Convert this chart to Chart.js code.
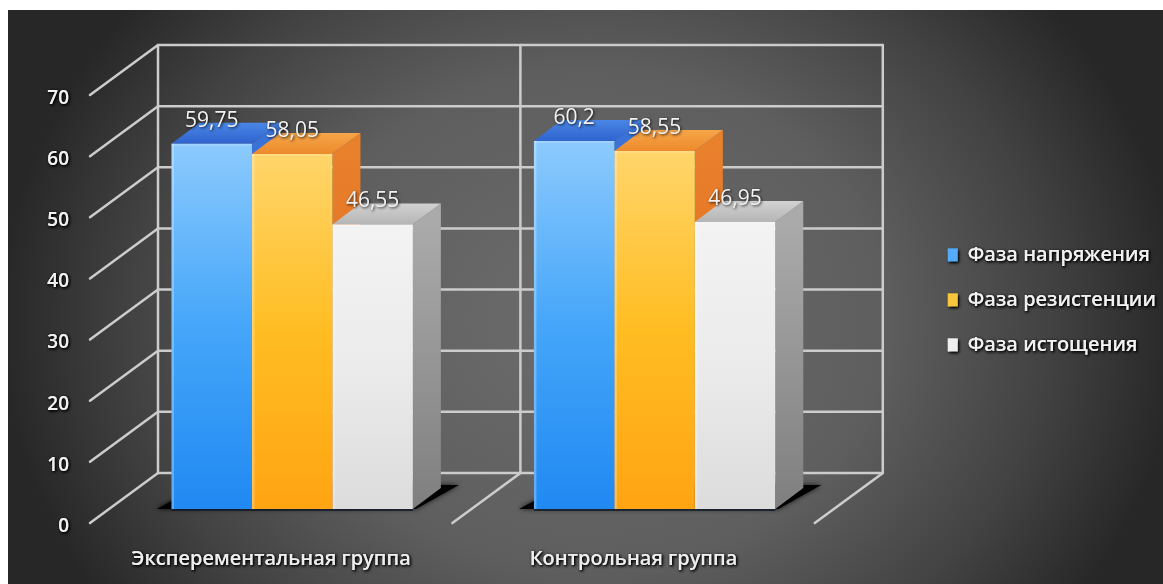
<!DOCTYPE html>
<html lang="ru">
<head>
<meta charset="utf-8">
<style>
html,body{margin:0;padding:0;background:#fff;overflow:hidden}
#wrap{width:1163px;height:584px;position:relative}
canvas{display:block;filter:blur(0.6px)}
</style>
<script src="https://cdn.jsdelivr.net/npm/chart.js@4"></script>
</head>
<body>
<div id="wrap"><canvas id="c" width="1163" height="584"></canvas></div>
<script>
const categories = ['Эксперементальная группа', 'Контрольная группа'];
const tensionValues = [59.75, 60.2];
const resistanceValues = [58.05, 58.55];
const exhaustionValues = [46.55, 46.95];
const tensionLabels = ['59,75', '60,2'];
const resistanceLabels = ['58,05', '58,55'];
const exhaustionLabels = ['46,55', '46,95'];
const seriesNames = ['Фаза напряжения', 'Фаза резистенции', 'Фаза истощения'];
const legendColors = ['#55abf9', '#f8c63d', '#eeeeee'];
const frontStops = [
  ['#8ccafd', '#45a6f9', '#2089f2'],
  ['#ffd56a', '#ffbd22', '#ffa412'],
  ['#f3f3f3', '#ebebeb', '#dcdcdc']
];
const topColors = [['#2f63cf', '#4a86e6'], ['#ec8a2c', '#f6a548'], ['#b5b5b5', '#d2d2d2']];
const sideColors = [['#3a72d8', '#1f54b4'], ['#e9802c', '#d95f14'], ['#aaaaaa', '#7f7f7f']];

const WALL_DX = 68, WALL_DY = 50;   // depth of the floor
const BAR_DX = 21, BAR_DY = 14;     // bars stand 0.3 of the way back
const SIDE_DX = 28, SIDE_DY = 21;   // depth of a bar

const valueLabels = [tensionLabels, resistanceLabels, exhaustionLabels];

function frontGradient(ctx) {
  const chart = ctx.chart;
  if (!chart.chartArea || ctx.parsed === undefined) return legendColors[ctx.datasetIndex];
  const y = chart.scales.y;
  const g = chart.ctx.createLinearGradient(0, y.getPixelForValue(ctx.parsed.y), 0, y.getPixelForValue(0));
  const s = frontStops[ctx.datasetIndex];
  g.addColorStop(0, s[0]); g.addColorStop(0.5, s[1]); g.addColorStop(1, s[2]);
  return g;
}

const scene = {
  id: 'scene',
  beforeDraw(chart) {
    const c = chart.ctx;
    c.save();
    c.fillStyle = '#fff';
    c.fillRect(0, 0, 1163, 584);
    c.beginPath(); c.rect(8, 10, 1155, 574); c.clip();
    c.translate(590, 320); c.scale(1, 0.85);
    const g = c.createRadialGradient(0, 0, 0, 0, 0, 590);
    g.addColorStop(0, '#6c6c6c');
    g.addColorStop(0.5, '#5e5e5e');
    g.addColorStop(0.78, '#424242');
    g.addColorStop(1, '#272727');
    c.fillStyle = g;
    c.fillRect(-700, -600, 1500, 1200);
    c.restore();

    // soft shadow text for axis labels and the legend
    const soft = (obj, method, passes) => {
      const draw = obj[method];
      obj[method] = function (...args) {
        const x = this.ctx;
        x.save();
        x.shadowColor = 'rgba(0,0,0,0.95)'; x.shadowBlur = 3; x.shadowOffsetX = 1; x.shadowOffsetY = 1;
        for (let i = 0; i < passes; i++) draw.apply(this, args);
        x.restore();
      };
    };
    if (!chart.$soft) {
      chart.$soft = true;
      soft(chart.scales.y, 'drawLabels', 2);
      soft(chart.scales.x, 'drawLabels', 2);
      soft(chart.legend, 'draw', 2);
    }
  },
  beforeDatasetsDraw(chart) {
    const c = chart.ctx, y = chart.scales.y, x = chart.scales.x;
    // walls
    c.save();
    c.strokeStyle = '#cccccc'; c.lineWidth = 2.5; c.lineCap = 'round';
    const L = chart.chartArea.left, R = chart.chartArea.right;
    y.ticks.forEach(t => {
      const py = y.getPixelForValue(t.value);
      c.beginPath();
      c.moveTo(L, py);
      c.lineTo(L + WALL_DX, py - WALL_DY);
      c.lineTo(R + WALL_DX, py - WALL_DY);
      c.stroke();
    });
    const bottom = y.getPixelForValue(0), top = y.getPixelForValue(70);
    const edges = [L, L + (R - L) / 2, R];
    edges.forEach((ex, i) => {
      c.beginPath();
      c.moveTo(ex + WALL_DX, top - WALL_DY);
      c.lineTo(ex + WALL_DX, bottom - WALL_DY);
      if (i > 0) c.lineTo(ex, bottom);
      c.stroke();
    });
    c.restore();

    const metas = [0, 1, 2].map(i => chart.getDatasetMeta(i));
    // contact shadow on the floor
    categories.forEach((_, k) => {
      const l = metas[0].data[k], r = metas[2].data[k];
      const x0 = l.x - l.width / 2 + BAR_DX, x1 = r.x + r.width / 2 + BAR_DX;
      const base = y.getPixelForValue(0) - BAR_DY;
      c.save();
      c.fillStyle = '#000';
      c.shadowColor = 'rgba(0,0,0,0.8)'; c.shadowBlur = 5;
      c.beginPath();
      c.moveTo(x0 - 15, base);
      c.lineTo(x1 + 3, base);
      c.lineTo(x1 + 46, base - 24);
      c.lineTo(x0 + 30, base - 24);
      c.closePath(); c.fill();
      c.restore();
    });

    // tops and sides
    metas.forEach((meta, i) => {
      meta.data.forEach(el => {
        const x0 = el.x - el.width / 2 + BAR_DX, x1 = el.x + el.width / 2 + BAR_DX;
        const yt = el.y - BAR_DY, yb = el.base - BAR_DY;
        let g = c.createLinearGradient(0, yt, 0, yb);
        g.addColorStop(0, sideColors[i][0]); g.addColorStop(1, sideColors[i][1]);
        c.fillStyle = g;
        c.beginPath();
        c.moveTo(x1, yt); c.lineTo(x1 + SIDE_DX, yt - SIDE_DY);
        c.lineTo(x1 + SIDE_DX, yb - SIDE_DY); c.lineTo(x1, yb);
        c.closePath(); c.fill();
        g = c.createLinearGradient(0, yt - SIDE_DY, 0, yt);
        g.addColorStop(0, topColors[i][1]); g.addColorStop(1, topColors[i][0]);
        c.fillStyle = g;
        c.beginPath();
        c.moveTo(x0, yt); c.lineTo(x0 + SIDE_DX, yt - SIDE_DY);
        c.lineTo(x1 + SIDE_DX, yt - SIDE_DY); c.lineTo(x1, yt);
        c.closePath(); c.fill();
      });
    });
    c.save();
    c.translate(BAR_DX, -BAR_DY);
  },
  afterDatasetsDraw(chart) {
    const c = chart.ctx;
    [0, 1, 2].forEach(i => {
      chart.getDatasetMeta(i).data.forEach(el => {
        const x0 = el.x - el.width / 2;
        c.fillStyle = 'rgba(255,255,255,0.28)';
        c.fillRect(x0, el.y, 2.5, el.base - el.y);
        c.fillStyle = 'rgba(255,255,255,0.18)';
        c.fillRect(x0, el.y, el.width, 2);
      });
    });
    c.restore();
    // base line and value labels
    c.save();
    c.strokeStyle = 'rgba(10,20,40,0.9)'; c.lineWidth = 1.5;
    const m0 = chart.getDatasetMeta(0).data, m2 = chart.getDatasetMeta(2).data;
    categories.forEach((_, k) => {
      const by = m0[k].base - BAR_DY + 1;
      c.beginPath();
      c.moveTo(m0[k].x - m0[k].width / 2 + BAR_DX, by);
      c.lineTo(m2[k].x + m2[k].width / 2 + BAR_DX, by);
      c.stroke();
    });
    c.font = '21px "Open Sans"';
    c.textAlign = 'center'; c.textBaseline = 'middle';
    c.fillStyle = '#f2f2f2';
    c.shadowColor = 'rgba(0,0,0,0.85)'; c.shadowBlur = 3; c.shadowOffsetX = 1; c.shadowOffsetY = 1;
    [0, 1, 2].forEach(i => {
      chart.getDatasetMeta(i).data.forEach((el, k) => {
        c.fillText(valueLabels[i][k], el.x + BAR_DX, el.y - BAR_DY - 23);
      });
    });
    c.restore();
  }
};

new Chart(document.getElementById('c'), {
  type: 'bar',
  data: {
    labels: categories,
    datasets: [
      { label: seriesNames[0], data: tensionValues },
      { label: seriesNames[1], data: resistanceValues },
      { label: seriesNames[2], data: exhaustionValues }
    ].map(d => Object.assign(d, {
      backgroundColor: frontGradient,
      borderWidth: 0,
      clip: false,
      categoryPercentage: 0.666,
      barPercentage: 1
    }))
  },
  options: {
    responsive: false,
    animation: false,
    devicePixelRatio: 1,
    layout: { padding: { top: 16, right: -3, left: 0, bottom: 0 } },
    plugins: {
      tooltip: { enabled: false },
      legend: {
        position: 'right',
        maxWidth: 320,
        labels: {
          color: '#f1f1f1',
          font: { family: '"Open Sans"', size: 20, weight: '600' },
          boxWidth: 10, boxHeight: 13,
          padding: 25,
          generateLabels: () => seriesNames.map((text, i) => ({
            text, fillStyle: legendColors[i], strokeStyle: 'transparent', lineWidth: 0, fontColor: '#f1f1f1', datasetIndex: i
          }))
        }
      }
    },
    scales: {
      x: {
        grid: { display: false }, border: { display: false },
        ticks: { color: '#eeeeee', font: { family: '"Open Sans"', size: 20, weight: '600' }, padding: 16, maxRotation: 0 },
        afterFit(s) { s.height = 61; }
      },
      y: {
        min: 0, max: 70,
        grid: { display: false, drawTicks: false }, border: { display: false },
        ticks: { stepSize: 10, color: '#f1f1f1', font: { family: '"Open Sans"', size: 19, weight: '600' }, padding: 21, labelOffset: 3.5 },
        afterFit(s) { s.width = 90; }
      },
      gap: {
        position: 'right', display: true, grid: { display: false }, border: { display: false },
        ticks: { display: false }, afterFit(s) { s.width = 108; }
      },
      headroom: {
        position: 'top', axis: 'x', display: true, grid: { display: false }, border: { display: false },
        ticks: { display: false }, afterFit(s) { s.height = 79; }
      }
    }
  },
  plugins: [scene]
});
</script>
</body>
</html>
